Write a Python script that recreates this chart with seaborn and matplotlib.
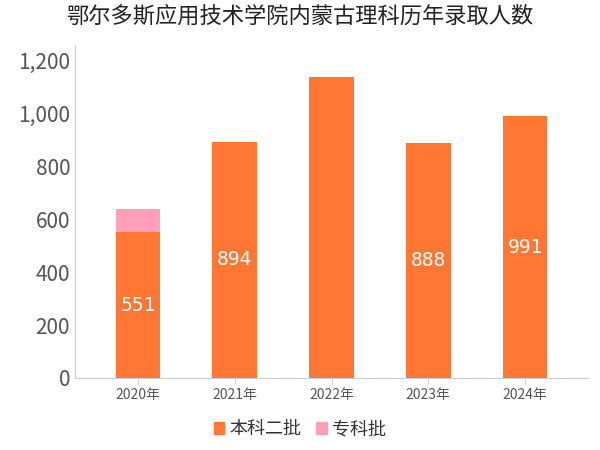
import matplotlib
matplotlib.use("Agg")
import matplotlib.pyplot as plt
import seaborn as sns
import pandas as pd
from matplotlib.ticker import FuncFormatter
from matplotlib.patches import Patch

years = ["2020年", "2021年", "2022年", "2023年", "2024年"]
benke = [551, 894, 1138, 888, 991]
zhuanke = [90, 0, 0, 0, 0]
labels = ["551", "894", "", "888", "991"]

plt.rcParams["font.family"] = ["Noto Sans CJK SC", "Noto Sans CJK JP", "Noto Sans CJK TC", "DejaVu Sans"]
fig = plt.figure(figsize=(6, 4.5), dpi=100)
ax = fig.add_axes([0.125, 0.16, 0.855, 0.74])

df = pd.DataFrame({"year": years, "b": benke, "total": [a + b for a, b in zip(benke, zhuanke)]})
sns.barplot(data=df, x="year", y="total", color="#ffa0b8", width=0.46, ax=ax, saturation=1)
sns.barplot(data=df, x="year", y="b", color="#ff7733", width=0.46, ax=ax, saturation=1)
for i, (v, t) in enumerate(zip(benke, labels)):
    if t:
        ax.text(i, v / 2, t, ha="center", va="center", color="white", fontsize=14, family="DejaVu Sans Mono")

ax.set_ylim(0, 1260)
ax.set_yticks(range(0, 1201, 200))
ax.yaxis.set_major_formatter(FuncFormatter(lambda v, p: f"{int(v):,}"))
ax.set_xlabel("")
ax.set_ylabel("")
ax.set_xlim(-0.65, 4.65)
for s in ["top", "right"]:
    ax.spines[s].set_visible(False)
for s in ["left", "bottom"]:
    ax.spines[s].set_color("#cccccc")
ax.tick_params(axis="y", labelsize=15, colors="#555555", length=0)
ax.tick_params(axis="x", labelsize=10, colors="#555555", length=4, color="#cccccc")
fig.suptitle("鄂尔多斯应用技术学院内蒙古理科历年录取人数", fontsize=16, y=0.99, color="#222222")

fig.legend(handles=[Patch(color="#ff7733", label="本科二批"), Patch(color="#ffa0b8", label="专科批")],
           loc="lower center", ncol=2, frameon=False, fontsize=13, bbox_to_anchor=(0.5, -0.01),
           handlelength=0.6, handleheight=0.6, handletextpad=0.3, columnspacing=0.8, labelcolor="#333333")
fig.savefig("out.png", dpi=100)
